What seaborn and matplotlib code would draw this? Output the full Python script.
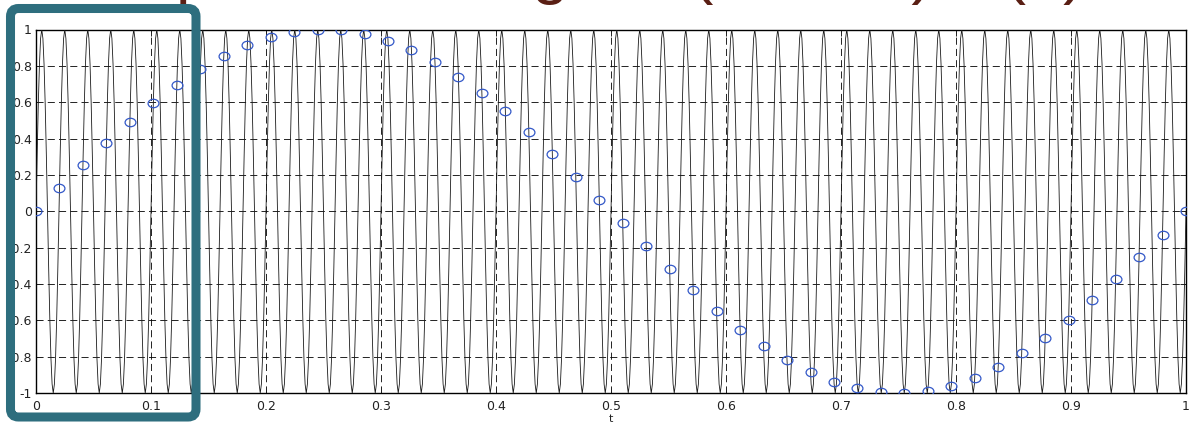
import numpy as np
import pandas as pd
import matplotlib
matplotlib.use("Agg")
import matplotlib.pyplot as plt
import seaborn as sns
from matplotlib.path import Path
from matplotlib.patches import FancyBboxPatch

# ---------------- data ----------------
# sampled points (blue circles): 50 samples from t=0 to t=1
sample_t = [0.0000, 0.0204, 0.0408, 0.0612, 0.0816, 0.1020, 0.1224, 0.1429, 0.1633, 0.1837,
            0.2041, 0.2245, 0.2449, 0.2653, 0.2857, 0.3061, 0.3265, 0.3469, 0.3673, 0.3878,
            0.4082, 0.4286, 0.4490, 0.4694, 0.4898, 0.5102, 0.5306, 0.5510, 0.5714, 0.5918,
            0.6122, 0.6327, 0.6531, 0.6735, 0.6939, 0.7143, 0.7347, 0.7551, 0.7755, 0.7959,
            0.8163, 0.8367, 0.8571, 0.8776, 0.8980, 0.9184, 0.9388, 0.9592, 0.9796, 1.0000]
sample_values = [0.000, 0.128, 0.254, 0.375, 0.491, 0.598, 0.696, 0.782, 0.855, 0.915,
                 0.959, 0.987, 1.000, 0.995, 0.975, 0.938, 0.887, 0.820, 0.741, 0.651,
                 0.550, 0.434, 0.315, 0.191, 0.064, -0.064, -0.191, -0.315, -0.434, -0.550,
                 -0.651, -0.741, -0.820, -0.887, -0.938, -0.975, -0.995, -1.000, -0.987, -0.959,
                 -0.915, -0.855, -0.782, -0.696, -0.598, -0.491, -0.375, -0.254, -0.128, 0.000]

# continuous high-frequency signal (black line): 50 identical cycles,
# each cycle drawn through 20 points
cycle_start_t = [0.00, 0.02, 0.04, 0.06, 0.08, 0.10, 0.12, 0.14, 0.16, 0.18,
                 0.20, 0.22, 0.24, 0.26, 0.28, 0.30, 0.32, 0.34, 0.36, 0.38,
                 0.40, 0.42, 0.44, 0.46, 0.48, 0.50, 0.52, 0.54, 0.56, 0.58,
                 0.60, 0.62, 0.64, 0.66, 0.68, 0.70, 0.72, 0.74, 0.76, 0.78,
                 0.80, 0.82, 0.84, 0.86, 0.88, 0.90, 0.92, 0.94, 0.96, 0.98]
cycle_offset_t = [0.000, 0.001, 0.002, 0.003, 0.004, 0.005, 0.006, 0.007, 0.008, 0.009,
                  0.010, 0.011, 0.012, 0.013, 0.014, 0.015, 0.016, 0.017, 0.018, 0.019]
cycle_shape = [0.000, 0.309, 0.588, 0.809, 0.951, 1.000, 0.951, 0.809, 0.588, 0.309,
               0.000, -0.309, -0.588, -0.809, -0.951, -1.000, -0.951, -0.809, -0.588, -0.309]
wave_end = (1.0, 0.0)

x_ticks = [0, 0.1, 0.2, 0.3, 0.4, 0.5, 0.6, 0.7, 0.8, 0.9, 1.0]
x_tick_labels = ["0", "0.1", "0.2", "0.3", "0.4", "0.5", "0.6", "0.7", "0.8", "0.9", "1"]
y_ticks = [-1, -0.8, -0.6, -0.4, -0.2, 0, 0.2, 0.4, 0.6, 0.8, 1]
y_tick_labels = ["-1", "-0.8", "-0.6", "-0.4", "-0.2", "0", "0.2", "0.4", "0.6", "0.8", "1"]
x_label = "t"
title_text = "Temporal aliasing: sin(2π·50t), x(n) = x(nT)"

# ---------------- tables ----------------
wave_t, wave_v = [], []
for t0 in cycle_start_t:
    for dt, v in zip(cycle_offset_t, cycle_shape):
        wave_t.append(t0 + dt)
        wave_v.append(v)
wave_t.append(wave_end[0])
wave_v.append(wave_end[1])
wave_df = pd.DataFrame({"t": wave_t, "v": wave_v})
samp_df = pd.DataFrame({"t": sample_t, "v": sample_values})

# ---------------- style ----------------
sns.set_theme(style="white")
plt.rcParams["font.family"] = ["DejaVu Sans"]

W, H = 1194, 426
fig = plt.figure(figsize=(W / 100, H / 100), dpi=100)
fig.patch.set_facecolor("white")
ax = fig.add_axes([36 / W, 1 - 393 / H, 1150 / W, (393 - 29.5) / H])

sns.lineplot(data=wave_df, x="t", y="v", color="#1a1a1a", linewidth=0.6,
             estimator=None, sort=False, ax=ax, zorder=3)

uc = Path.unit_circle()
ellipse = Path(uc.vertices * np.array([1.0, 0.78]), uc.codes)
sns.lineplot(data=samp_df, x="t", y="v", marker=ellipse, linestyle="none",
             markersize=7.8, markerfacecolor="none", markeredgecolor="#3358c8",
             markeredgewidth=0.9, estimator=None, ax=ax, zorder=4)

ax.set_xlim(0, 1)
ax.set_ylim(-1, 1)
ax.set_xticks(x_ticks)
ax.set_xticklabels(x_tick_labels)
ax.set_yticks(y_ticks)
ax.set_yticklabels(y_tick_labels)
ax.set_xlabel(x_label, fontsize=8, color="#222222", labelpad=1)
ax.set_ylabel("")

ax.grid(True, color="black", linestyle=(0, (8.5, 5)), linewidth=0.6)
ax.set_axisbelow(True)
for sp in ax.spines.values():
    sp.set_visible(True)
    sp.set_color("black")
    sp.set_linewidth(1.0)
ax.tick_params(axis="both", direction="in", length=4, width=0.7, colors="#222222",
               labelsize=9, bottom=True, top=True, left=True, right=True)
ax.tick_params(axis="x", pad=5)
ax.tick_params(axis="y", pad=3)

# partially visible title above the plot (cut off by the top edge, as in the reference)
fig.text(50 / W, 1 + 9 / H, title_text, ha="left", va="baseline", fontsize=48,
         color="#5a1f14", family=["Liberation Sans", "DejaVu Sans"])

# teal highlight box
box = FancyBboxPatch((0.105, 0.09), 1.855, 4.085,
                     boxstyle="round,pad=0,rounding_size=0.08",
                     transform=fig.dpi_scale_trans, fill=False,
                     edgecolor="#2e6e7e", linewidth=6.5, zorder=10, clip_on=False)
fig.add_artist(box)

fig.savefig("out.png", dpi=100, facecolor="white")
